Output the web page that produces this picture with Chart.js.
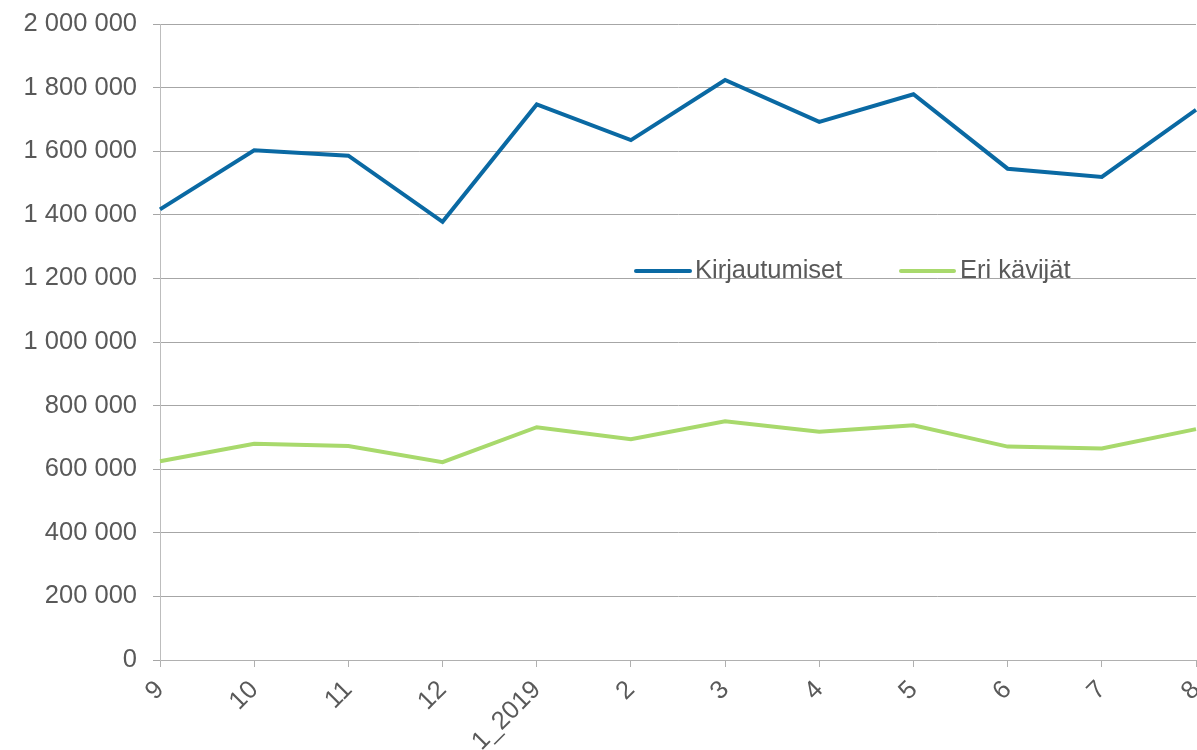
<!DOCTYPE html>
<html>
<head>
<meta charset="utf-8">
<script src="https://cdn.jsdelivr.net/npm/chart.js@4.4.1/dist/chart.umd.min.js"></script>
<style>
html,body{margin:0;padding:0;background:#fff;overflow:hidden;}
#wrap{position:relative;width:1197px;height:750px;}
</style>
</head>
<body>
<div id="wrap"><canvas id="c" width="1197" height="750"></canvas></div>
<script>
const categories = ['9','10','11','12','1_2019','2','3','4','5','6','7','8'];
const kirjautumiset = [1417000,1603000,1586000,1378000,1747000,1635000,1824000,1692000,1779000,1545000,1519000,1730000];
const eriKavijat = [625000,680000,673000,622000,732000,694000,751000,718000,738000,671000,665000,726000];
const seriesNames = ['Kirjautumiset','Eri kävijät'];
const yMin = 0, yMax = 2000000, yStep = 200000;

const BLUE = '#0a69a3';
const GREEN = '#a8d96c';
const TEXT = '#595959';
const FONT = 'Liberation Sans, Arial, sans-serif';
const FS = 25.5;

function fmt(v){
  return String(v).replace(/\B(?=(\d{3})+(?!\d))/g,' ');
}

const legendPlugin = {
  id:'innerLegend',
  afterDraw(chart){
    const ctx = chart.ctx;
    const items = [
      {x:636, len:54, tx:695, color:BLUE, label:seriesNames[0]},
      {x:901, len:53, tx:960, color:GREEN, label:seriesNames[1]}
    ];
    const y = 271;
    ctx.save();
    items.forEach(it=>{
      ctx.strokeStyle = it.color;
      ctx.lineWidth = 4;
      ctx.lineCap = 'round';
      ctx.beginPath();
      ctx.moveTo(it.x, y);
      ctx.lineTo(it.x+it.len, y);
      ctx.stroke();
      ctx.fillStyle = TEXT;
      ctx.font = FS + 'px ' + FONT;
      ctx.textBaseline = 'middle';
      ctx.textAlign = 'left';
      ctx.fillText(it.label, it.tx, y);
    });
    ctx.restore();
  }
};

new Chart(document.getElementById('c'), {
  type:'line',
  data:{
    labels:categories,
    datasets:[
      {label:seriesNames[0], data:kirjautumiset, borderColor:BLUE, backgroundColor:BLUE, borderWidth:4, pointRadius:0, tension:0, fill:false},
      {label:seriesNames[1], data:eriKavijat, borderColor:GREEN, backgroundColor:GREEN, borderWidth:4, pointRadius:0, tension:0, fill:false}
    ]
  },
  options:{
    responsive:false,
    animation:false,
    layout:{padding:{top:24,right:1,left:0,bottom:0}},
    plugins:{legend:{display:false}, tooltip:{enabled:false}},
    scales:{
      x:{
        offset:false,
        grid:{display:true, drawOnChartArea:false, drawTicks:true, tickLength:7, color:'#b0b0b0'},
        border:{display:true, color:'#b0b0b0', width:1},
        ticks:{color:TEXT, font:{family:FONT, size:FS}, maxRotation:45, minRotation:45, padding:8, autoSkip:false},
        afterFit(s){ s.height = 90; s.paddingRight = 0; s.paddingLeft = 0; }
      },
      y:{
        min:yMin, max:yMax,
        grid:{color:'#a6a6a6', lineWidth:1, tickLength:7, drawTicks:true},
        border:{display:true, color:'#bdbdbd', width:1},
        ticks:{stepSize:yStep, color:TEXT, font:{family:FONT, size:FS}, padding:16, callback:v=>fmt(v)},
        afterFit(s){ s.width = 160; s.paddingTop = 0; s.paddingBottom = 0; }
      }
    }
  },
  plugins:[legendPlugin]
});
</script>
</body>
</html>
